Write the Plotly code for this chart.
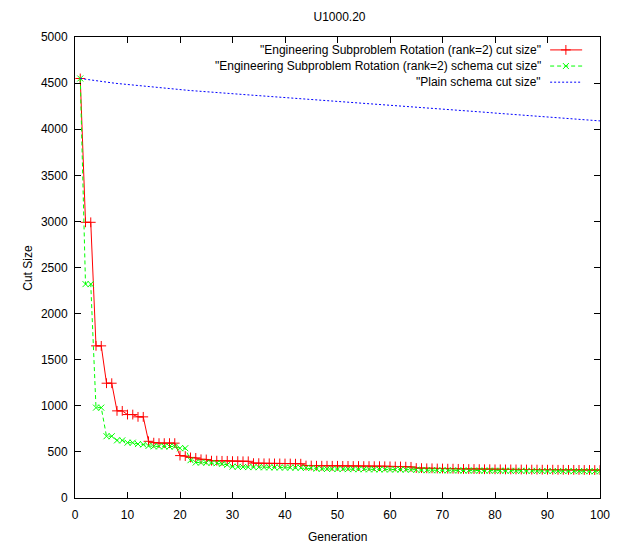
import plotly.graph_objects as go

generations = list(range(1, 101))

esr_cut = [4550, 2990, 2990, 1650, 1650, 1245, 1245, 945, 945, 905,
           905, 880, 880, 615, 600, 595, 595, 595, 595, 460,
           455, 440, 435, 420, 418, 405, 405, 403, 403, 400,
           400, 398, 398, 378, 378, 376, 376, 375, 375, 374,
           374, 372, 372, 352, 352, 350, 350, 350, 349, 349,
           348, 348, 347, 347, 346, 346, 345, 345, 344, 343,
           342, 342, 340, 338, 325, 324, 322, 322, 320, 320,
           318, 318, 316, 315, 314, 314, 313, 312, 312, 311,
           311, 310, 310, 310, 309, 309, 308, 308, 307, 307,
           307, 306, 306, 305, 305, 305, 304, 304, 303, 303]

esr_schema = [4550, 2320, 2320, 980, 980, 670, 670, 625, 625, 600,
              600, 585, 580, 565, 560, 560, 560, 558, 558, 540,
              540, 410, 385, 385, 383, 380, 378, 370, 360, 340,
              338, 336, 335, 335, 334, 333, 332, 332, 331, 330,
              330, 329, 328, 327, 326, 318, 316, 315, 315, 314,
              314, 313, 313, 312, 312, 311, 311, 310, 310, 309,
              309, 308, 308, 307, 307, 302, 302, 301, 301, 300,
              300, 299, 299, 298, 298, 298, 297, 297, 297, 296,
              296, 296, 295, 295, 295, 294, 294, 294, 293, 293,
              293, 292, 292, 292, 291, 291, 291, 290, 290, 290]

plain_schema = [4550, 4541, 4533, 4524, 4517, 4510, 4503, 4496, 4490, 4484,
                4478, 4472, 4466, 4460, 4455, 4449, 4444, 4439, 4434, 4429,
                4424, 4419, 4415, 4410, 4406, 4401, 4397, 4393, 4388, 4384,
                4380, 4376, 4372, 4368, 4364, 4360, 4356, 4352, 4348, 4344,
                4340, 4336, 4332, 4328, 4324, 4320, 4316, 4312, 4308, 4304,
                4300, 4295, 4291, 4287, 4283, 4278, 4274, 4270, 4265, 4261,
                4257, 4253, 4248, 4244, 4240, 4235, 4231, 4227, 4223, 4218,
                4214, 4210, 4205, 4201, 4197, 4193, 4188, 4184, 4180, 4175,
                4171, 4167, 4163, 4158, 4154, 4150, 4145, 4141, 4137, 4133,
                4128, 4124, 4120, 4115, 4111, 4107, 4103, 4098, 4094, 4090]

series_names = ['"Engineering Subproblem Rotation (rank=2) cut size"',
                '"Engineering Subproblem Rotation (rank=2) schema cut size"',
                '"Plain schema cut size"']

x_ticks = list(range(0, 101, 10))
y_ticks = list(range(0, 5001, 500))

FONT = "Liberation Sans, Arial, sans-serif"
RED = "#ff0000"
GREEN = "#00ff00"
BLUE = "#0000ff"

red_marker = dict(symbol="cross-thin", size=7, color=RED, line=dict(color=RED, width=1))
green_marker = dict(symbol="x-thin", size=6, color=GREEN, line=dict(color=GREEN, width=1))
red_line = dict(color=RED, width=1)
green_line = dict(color=GREEN, width=1, dash="4px,3px")
blue_line = dict(color=BLUE, width=1, dash="2px,2px")

fig = go.Figure()
fig.add_trace(go.Scatter(x=generations, y=esr_cut, mode="lines+markers",
                         line=red_line, marker=red_marker, showlegend=False))
fig.add_trace(go.Scatter(x=generations, y=esr_schema, mode="lines+markers",
                         line=green_line, marker=green_marker, showlegend=False))
fig.add_trace(go.Scatter(x=generations, y=plain_schema, mode="lines",
                         line=blue_line, showlegend=False))

# legend (gnuplot style: text right-aligned, sample on the right)
leg_y = [0.972, 0.937, 0.902]
leg_styles = [(red_line, red_marker), (green_line, green_marker), (blue_line, None)]
for yy, (ln, mk), name in zip(leg_y, leg_styles, series_names):
    fig.add_trace(go.Scatter(x=[0.905, 0.966], y=[yy, yy], xaxis="x2", yaxis="y2",
                             line=ln, mode="lines", showlegend=False, hoverinfo="skip"))
    if mk is not None:
        fig.add_trace(go.Scatter(x=[0.935], y=[yy], xaxis="x2", yaxis="y2",
                                 mode="markers", marker=mk, showlegend=False, hoverinfo="skip"))
    fig.add_annotation(x=0.891, y=yy, xref="paper", yref="paper", text=name,
                       showarrow=False, xanchor="right", yanchor="middle",
                       font=dict(family=FONT, size=12, color="black"))

# axis titles
fig.add_annotation(x=0.5, y=-0.085, xref="paper", yref="paper", text="Generation",
                   showarrow=False, xanchor="center", yanchor="middle",
                   font=dict(family=FONT, size=12, color="black"))
fig.add_annotation(x=-0.091, y=0.5, xref="paper", yref="paper", text="Cut Size",
                   showarrow=False, xanchor="center", yanchor="middle", textangle=-90,
                   font=dict(family=FONT, size=12, color="black"))

axis_common = dict(showgrid=False, zeroline=False, showline=True, linecolor="black",
                   linewidth=1, mirror="allticks", ticks="inside", ticklen=6,
                   tickcolor="black", automargin=False,
                   tickfont=dict(family=FONT, size=12, color="black"))

fig.update_layout(
    width=623, height=545,
    margin=dict(l=75, r=23, t=37, b=47),
    paper_bgcolor="white", plot_bgcolor="white",
    title=dict(text="U1000.20", x=0.545, xanchor="center", y=0.97, yanchor="middle",
               font=dict(family=FONT, size=12, color="black")),
    xaxis=dict(range=[0, 100], tickvals=x_ticks, ticklabelstandoff=6, **axis_common),
    yaxis=dict(range=[0, 5000], tickvals=y_ticks, ticklabelstandoff=4, **axis_common),
    xaxis2=dict(overlaying="x", range=[0, 1], visible=False),
    yaxis2=dict(overlaying="y", range=[0, 1], visible=False),
    showlegend=False,
)

fig.write_html("out.html")
